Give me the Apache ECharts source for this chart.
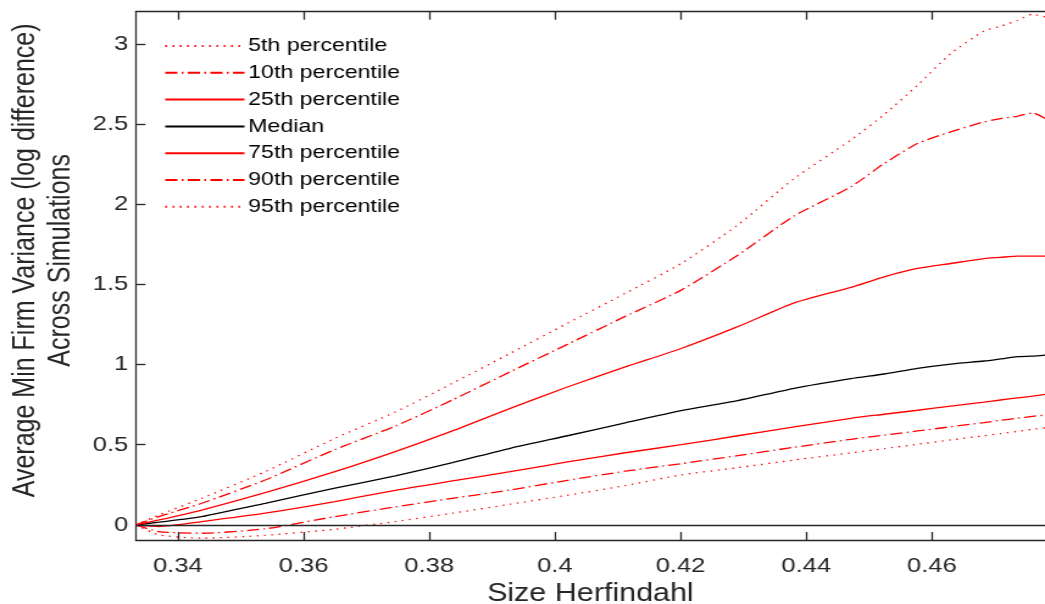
<!DOCTYPE html>
<html>
<head>
<meta charset="utf-8">
<script src="https://cdn.jsdelivr.net/npm/echarts@6/dist/echarts.min.js"></script>
<style>
  html, body { margin: 0; padding: 0; background: #fff; overflow: hidden; width: 1045px; height: 604px; }
  #chart { width: 857px; height: 604px; transform: scaleX(1.21937); transform-origin: 0 0; }
</style>
</head>
<body>
<div id="chart"></div>
<script>
// Size Herfindahl (x)
const xValues = [0.3333, 0.3370, 0.3438, 0.3539, 0.3650, 0.3746, 0.3837, 0.3929, 0.4020, 0.4112, 0.4201,
                 0.4291, 0.4381, 0.4471, 0.4524, 0.4577, 0.4630, 0.4683, 0.4709, 0.4736, 0.4760, 0.4781];
const p5   = [0, -0.062, -0.083, -0.065, -0.027, 0.021, 0.073, 0.129, 0.185, 0.245, 0.312,
              0.357, 0.405, 0.449, 0.476, 0.503, 0.530, 0.556, 0.569, 0.583, 0.596, 0.606];
const p10  = [0, -0.042, -0.052, -0.024, 0.052, 0.112, 0.166, 0.218, 0.278, 0.335, 0.382,
              0.432, 0.484, 0.534, 0.560, 0.586, 0.612, 0.638, 0.652, 0.665, 0.677, 0.685];
const p25  = [0, -0.010, 0.021, 0.073, 0.145, 0.216, 0.274, 0.332, 0.393, 0.450, 0.500,
              0.556, 0.611, 0.665, 0.690, 0.715, 0.741, 0.766, 0.779, 0.792, 0.803, 0.814];
const p50  = [0, 0.017, 0.052, 0.135, 0.229, 0.306, 0.388, 0.478, 0.556, 0.636, 0.712,
              0.775, 0.852, 0.912, 0.941, 0.976, 1.003, 1.022, 1.035, 1.049, 1.052, 1.059];
const p75  = [0, 0.031, 0.093, 0.201, 0.332, 0.457, 0.586, 0.727, 0.860, 0.985, 1.100,
              1.236, 1.385, 1.481, 1.547, 1.599, 1.630, 1.661, 1.668, 1.676, 1.676, 1.676];
const p90  = [0, 0.052, 0.135, 0.280, 0.470, 0.616, 0.779, 0.955, 1.126, 1.300, 1.464,
              1.682, 1.927, 2.108, 2.253, 2.378, 2.451, 2.513, 2.534, 2.548, 2.569, 2.534];
const p95  = [0, 0.062, 0.166, 0.332, 0.540, 0.704, 0.883, 1.070, 1.257, 1.444, 1.630,
              1.870, 2.160, 2.400, 2.559, 2.741, 2.939, 3.080, 3.109, 3.145, 3.184, 3.167];

const seriesNames = ['5th percentile', '10th percentile', '25th percentile', 'Median',
                     '75th percentile', '90th percentile', '95th percentile'];
const xTicks = [0.34, 0.36, 0.38, 0.40, 0.42, 0.44, 0.46];
const yTicks = [0, 0.5, 1, 1.5, 2, 2.5, 3];
const xTitle = 'Size Herfindahl';
const yTitle = 'Average Min Firm Variance (log difference)\nAcross Simulations';

const FONT = '"Liberation Sans", Arial, Helvetica, sans-serif';
const AX = '#262626';
const DOT = [1.4, 4.6];
const DASHDOT = [10, 3.5, 1.5, 3.5];

const values = [p5, p10, p25, p50, p75, p90, p95];
const styles = [
  { color: '#ff0000', type: DOT },
  { color: '#ff0000', type: DASHDOT },
  { color: '#ff0000', type: 'solid' },
  { color: '#000000', type: 'solid' },
  { color: '#ff0000', type: 'solid' },
  { color: '#ff0000', type: DASHDOT },
  { color: '#ff0000', type: DOT }
];

const series = values.map((arr, i) => {
  const s = {
    name: seriesNames[i],
    type: 'line',
    data: xValues.map((x, j) => [x, arr[j]]),
    symbol: 'none',
    showSymbol: false,
    smooth: 0.2,
    color: styles[i].color,
    itemStyle: { color: styles[i].color },
    lineStyle: { color: styles[i].color, width: 1.3, type: styles[i].type },
    emphasis: { disabled: true },
    z: 3
  };
  if (i === 3) {
    s.markLine = {
      silent: true, symbol: 'none', label: { show: false },
      lineStyle: { color: AX, type: 'solid', width: 1.3 },
      data: [{ yAxis: 0 }]
    };
  }
  return s;
});

const chart = echarts.init(document.getElementById('chart'));
chart.setOption({
  animation: false,
  backgroundColor: '#ffffff',
  textStyle: { fontFamily: FONT },
  grid: { left: 111.3, right: 0, top: 11.7, bottom: 64, containLabel: false, outerBoundsMode: 'none' },
  legend: {
    show: true,
    data: seriesNames,
    orient: 'vertical',
    left: 134.5,
    top: 36,
    itemWidth: 65,
    itemHeight: 14,
    itemGap: 6.8,
    padding: 0,
    itemStyle: { opacity: 0 },
    textStyle: { fontFamily: FONT, fontSize: 19, color: '#000', lineHeight: 20, padding: [0, 0, 0, -2] },
    selectedMode: false
  },
  xAxis: [{
    type: 'value', min: 0.3333, max: 0.478,
    name: xTitle, nameLocation: 'middle', nameGap: 42, nameMoveOverlap: false,
    nameTruncate: { maxWidth: 2000 },
    nameTextStyle: { fontFamily: FONT, fontSize: 25, color: AX },
    axisLine: { show: true, onZero: false, lineStyle: { color: AX, width: 1.3 } },
    axisTick: { show: true, inside: true, length: 8, customValues: xTicks, lineStyle: { color: AX, width: 1.3 } },
    axisLabel: { show: true, customValues: xTicks, margin: 16, fontFamily: FONT, fontSize: 21, color: AX },
    splitLine: { show: false }
  }, {
    type: 'value', position: 'top', min: 0.3333, max: 0.478,
    axisLine: { show: true, onZero: false, lineStyle: { color: AX, width: 1.3 } },
    axisTick: { show: true, inside: true, length: 8, customValues: xTicks, lineStyle: { color: AX, width: 1.3 } },
    axisLabel: { show: false },
    splitLine: { show: false }
  }],
  yAxis: [{
    type: 'value', min: -0.094, max: 3.2,
    name: yTitle, nameLocation: 'middle', nameGap: 46, nameRotate: 90, nameMoveOverlap: false,
    nameTruncate: { maxWidth: 2000, ellipsis: '' },
    nameTextStyle: { fontFamily: FONT, fontSize: 25, color: AX, lineHeight: 29.5, align: 'center', padding: [0, 0, 0, 31] },
    axisLine: { show: true, onZero: false, lineStyle: { color: AX, width: 1.3 } },
    axisTick: { show: true, inside: true, length: 8, customValues: yTicks, lineStyle: { color: AX, width: 1.3 } },
    axisLabel: { show: true, customValues: yTicks, margin: 6, fontFamily: FONT, fontSize: 21, color: AX },
    splitLine: { show: false }
  }],
  series: series
});
</script>
</body>
</html>
